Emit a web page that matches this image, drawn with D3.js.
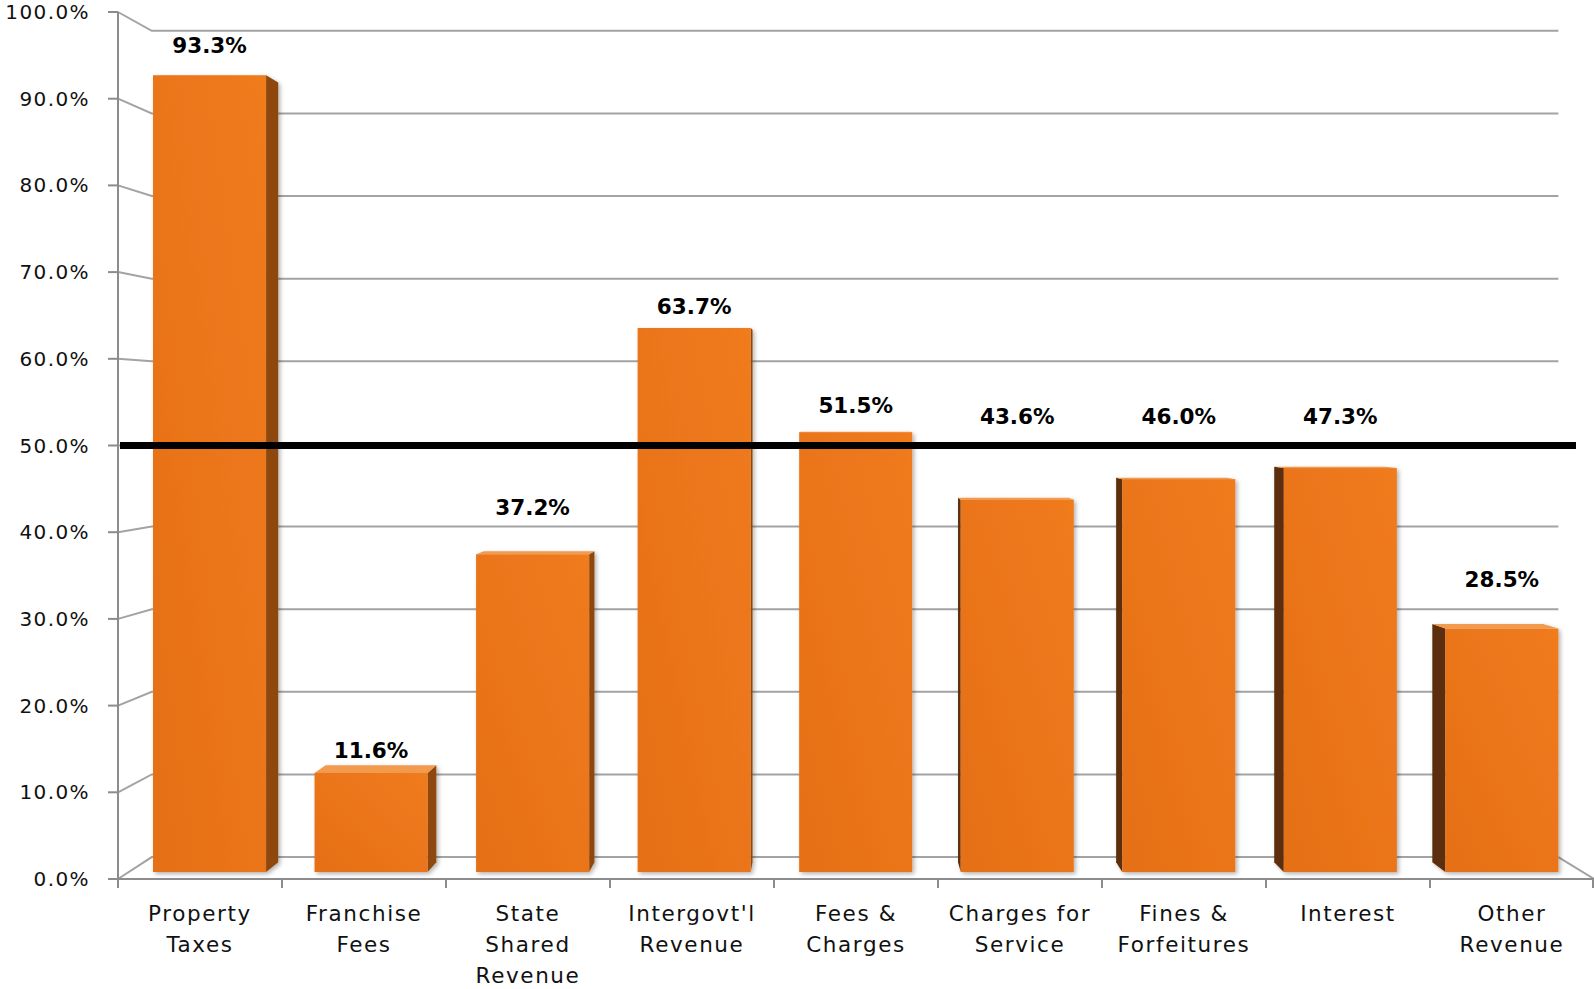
<!DOCTYPE html>
<html>

<head>
    <meta charset="utf-8">
    <style>
        body {
            margin: 0;
            background: #fff;
        }

        svg {
            display: block;
        }

        .tick-label {
            font-family: "DejaVu Sans", sans-serif;
            font-size: 20px;
            letter-spacing: 1.4px;
            fill: #111;
        }

        .cat-label {
            font-family: "DejaVu Sans", sans-serif;
            font-size: 21.5px;
            letter-spacing: 1.6px;
            fill: #111;
        }

        .value-label {
            font-family: "DejaVu Sans", sans-serif;
            font-size: 21.5px;
            font-weight: bold;
            fill: #000;
        }
    </style>
</head>

<body>
    <svg width="1594" height="989"></svg>
</body>

<script src="https://d3js.org/d3.v7.min.js"></script>

<script>
    // data
    let categories = [
        ["Property", "Taxes"],
        ["Franchise", "Fees"],
        ["State", "Shared", "Revenue"],
        ["Intergovt'l", "Revenue"],
        ["Fees &", "Charges"],
        ["Charges for", "Service"],
        ["Fines &", "Forfeitures"],
        ["Interest"],
        ["Other", "Revenue"]
    ]
    let values = [93.3, 11.6, 37.2, 63.7, 51.5, 43.6, 46.0, 47.3, 28.5]
    // where each value label sits (in % units, some were moved by hand)
    let labelAt = [95.9, 13.3, 41.8, 65.3, 53.7, 52.5, 52.5, 52.5, 33.4]
    let yTicks = [0, 10, 20, 30, 40, 50, 60, 70, 80, 90, 100]
    let target = 50

    let svg = d3.select("svg")

    // front plane scales (the axis plane)
    let x = d3.scaleBand()
        .domain(categories.map(d => d.join(" ")))
        .range([118, 1594])
        .paddingInner(0.3)
        .paddingOuter(0.15)

    let xEdges = d3.scaleBand()
        .domain(categories.map(d => d.join(" ")))
        .range([118, 1594])

    let y = d3.scaleLinear()
        .domain([0, 100])
        .range([879, 12])

    // simple perspective: push points toward a vanishing point
    let vp = { x: 836, y: 412 }
    let kWall = 0.953, kFront = 0.985, kBack = 0.964
    let P = (px, py, k) => [vp.x + (px - vp.x) * k, vp.y + (py - vp.y) * k]

    let defs = svg.append("defs")
    let grad = defs.append("linearGradient")
        .attr("id", "barFront")
        .attr("x1", "0%").attr("y1", "100%")
        .attr("x2", "100%").attr("y2", "0%")
    grad.append("stop").attr("offset", "0%").attr("stop-color", "#e56f17")
    grad.append("stop").attr("offset", "100%").attr("stop-color", "#f07b1c")

    let shadow = defs.append("filter")
        .attr("id", "shadow")
        .attr("x", "-10%").attr("y", "-10%")
        .attr("width", "130%").attr("height", "130%")
    shadow.append("feDropShadow")
        .attr("dx", 2).attr("dy", 2)
        .attr("stdDeviation", 2)
        .attr("flood-opacity", 0.3)

    let line = d3.line()
    let gridColor = "#a3a3a3"

    // gridlines on left wall + back wall
    let grid = svg.append("g")
    yTicks.forEach(function (t) {
        let back0 = P(118, y(t), kWall)
        let back1 = P(1594, y(t), kWall)
        grid.append("path")
            .attr("d", line([[118, y(t)], back0, back1]))
            .attr("fill", "none")
            .attr("stroke", gridColor)
            .attr("stroke-width", 2)
    })

    // floor edge on the right
    let floorBackR = P(1594, y(0), kWall)
    grid.append("path")
        .attr("d", line([floorBackR, [1594, y(0)]]))
        .attr("fill", "none")
        .attr("stroke", gridColor)
        .attr("stroke-width", 2)

    // bars
    let bars = svg.append("g")
    values.forEach(function (v, i) {
        let key = categories[i].join(" ")
        let x0 = x(key), x1 = x(key) + x.bandwidth()
        let yTop = y(v), yBot = y(0)
        let g = bars.append("g").attr("filter", "url(#shadow)")

        if (x1 < vp.x) {
            g.append("path")
                .attr("d", line([P(x1, yTop, kFront), P(x1, yTop, kBack), P(x1, yBot, kBack), P(x1, yBot, kFront)]) + "Z")
                .attr("fill", "#8e4609")
        } else if (x0 > vp.x) {
            g.append("path")
                .attr("d", line([P(x0, yTop, kFront), P(x0, yTop, kBack), P(x0, yBot, kBack), P(x0, yBot, kFront)]) + "Z")
                .attr("fill", "#5c2d08")
        }
        if (yTop > vp.y) {
            g.append("path")
                .attr("d", line([P(x0, yTop, kFront), P(x1, yTop, kFront), P(x1, yTop, kBack), P(x0, yTop, kBack)]) + "Z")
                .attr("fill", "#f29a4e")
        }
        let a = P(x0, yTop, kFront), b = P(x1, yBot, kFront)
        g.append("rect")
            .attr("x", a[0])
            .attr("y", a[1])
            .attr("width", b[0] - a[0])
            .attr("height", b[1] - a[1])
            .attr("fill", "url(#barFront)")
    })

    // 50% reference line
    svg.append("line")
        .attr("x1", 120)
        .attr("x2", 1576)
        .attr("y1", y(target))
        .attr("y2", y(target))
        .attr("stroke", "#000")
        .attr("stroke-width", 7)

    // value labels
    svg.append("g")
        .selectAll("text")
        .data(values)
        .join("text")
        .attr("class", "value-label")
        .attr("text-anchor", "middle")
        .attr("x", (d, i) => {
            let key = categories[i].join(" ")
            return P(x(key) + x.bandwidth() / 2, 0, kFront)[0]
        })
        .attr("y", (d, i) => P(0, y(labelAt[i]), kFront)[1])
        .text(d => d3.format(".1f")(d) + "%")

    // y axis
    let axisColor = "#8c8c8c"
    svg.append("line")
        .attr("x1", 118).attr("x2", 118)
        .attr("y1", y(100)).attr("y2", y(0))
        .attr("stroke", axisColor).attr("stroke-width", 2)

    let yAxis = svg.append("g")
    yAxis.selectAll("line")
        .data(yTicks)
        .join("line")
        .attr("x1", 108).attr("x2", 118)
        .attr("y1", d => y(d)).attr("y2", d => y(d))
        .attr("stroke", axisColor).attr("stroke-width", 2)

    yAxis.selectAll("text")
        .data(yTicks)
        .join("text")
        .attr("class", "tick-label")
        .attr("text-anchor", "end")
        .attr("x", 90)
        .attr("y", d => y(d) + 7)
        .text(d => d3.format(".1%")(d / 100))

    // x axis (front floor edge)
    svg.append("line")
        .attr("x1", 118).attr("x2", 1594)
        .attr("y1", y(0)).attr("y2", y(0))
        .attr("stroke", axisColor).attr("stroke-width", 2)

    let edges = xEdges.domain().map(k => xEdges(k)).concat([1594 - 1])
    svg.append("g")
        .selectAll("line")
        .data(edges)
        .join("line")
        .attr("x1", d => d).attr("x2", d => d)
        .attr("y1", y(0)).attr("y2", y(0) + 9)
        .attr("stroke", axisColor).attr("stroke-width", 2)

    let catLabels = svg.append("g")
        .selectAll("text")
        .data(categories)
        .join("text")
        .attr("class", "cat-label")
        .attr("text-anchor", "middle")
        .attr("x", d => xEdges(d.join(" ")) + xEdges.bandwidth() / 2)
        .attr("y", 921)

    catLabels.selectAll("tspan")
        .data(d => d.map((t, j) => ({ t, j, parent: d })))
        .join("tspan")
        .attr("x", d => xEdges(d.parent.join(" ")) + xEdges.bandwidth() / 2)
        .attr("dy", d => d.j === 0 ? 0 : 31)
        .text(d => d.t)

</script>

</html>
